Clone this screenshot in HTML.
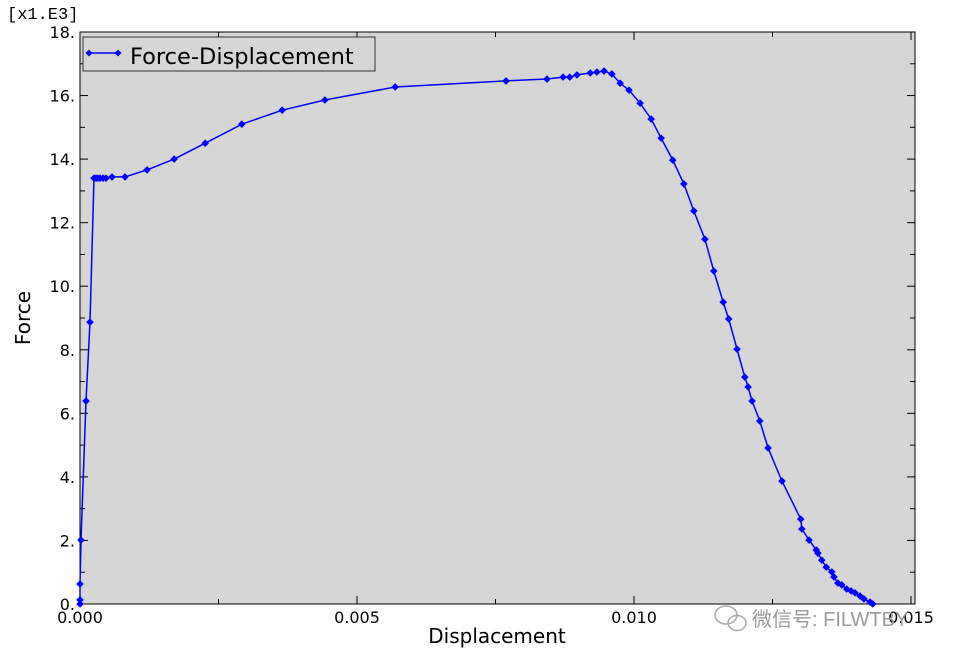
<!DOCTYPE html>
<html><head><meta charset="utf-8"><style>
body{margin:0;background:#fff;}
svg{display:block;font-family:"DejaVu Sans","Liberation Sans","Noto Sans CJK SC",sans-serif;}
</style></head><body>
<svg id="chart" width="954" height="661"></svg>
<script>
const xVals=[0,0,0,0.000018,0.000108,0.00018,0.000253,0.000289,0.000325,0.000361,0.000415,0.000469,0.000578,0.000812,0.00121,0.0017,0.00226,0.00292,0.00365,0.00442,0.00569,0.00769,0.00843,0.00872,0.00884,0.00897,0.00921,0.00933,0.00946,0.0096,0.00975,0.00991,0.01011,0.01031,0.01049,0.0107,0.0109,0.01108,0.01128,0.01144,0.01161,0.01171,0.01186,0.012,0.01206,0.01213,0.01227,0.01242,0.01267,0.01301,0.01303,0.01316,0.01329,0.01332,0.01339,0.01347,0.01357,0.01361,0.01368,0.01375,0.01384,0.01392,0.01399,0.01408,0.01415,0.01426,0.01431];
const forceVals=[0,0.13,0.63,2.01,6.39,8.87,13.40,13.40,13.40,13.40,13.40,13.40,13.44,13.44,13.66,14.0,14.5,15.1,15.54,15.86,16.27,16.46,16.52,16.58,16.58,16.65,16.71,16.74,16.77,16.68,16.39,16.17,15.76,15.26,14.66,13.97,13.22,12.37,11.48,10.48,9.5,8.97,8.02,7.14,6.83,6.39,5.76,4.91,3.87,2.67,2.36,2.01,1.7,1.6,1.38,1.16,1.01,0.85,0.66,0.6,0.47,0.41,0.35,0.25,0.16,0.06,0];
const xTicks=[0,0.005,0.010,0.015];
const xTickLabels=["0.000","0.005","0.010","0.015"];
const yTicks=[0,2,4,6,8,10,12,14,16,18];
const yTickLabels=["0.","2.","4.","6.","8.","10.","12.","14.","16.","18."];

const NS="http://www.w3.org/2000/svg";
const svg=document.getElementById('chart');
const L=80,R=915,T=32,B=604;
const xs=v=>L+v*55400;
const ys=v=>B-v*(B-T)/18;
function mk(tag,attrs,parent){const e=document.createElementNS(NS,tag);for(const k in attrs)e.setAttribute(k,attrs[k]);(parent||svg).appendChild(e);return e;}

const bg=mk('rect',{x:L,y:T,width:R-L,height:B-T,fill:'#d6d6d6',stroke:'#000','stroke-width':1});



const tg=mk('g',{stroke:'#000','stroke-width':1});


for(let v=0;v<=18.001;v+=1){const y=ys(v);const len=(Math.round(v)%2===0)?8:5;
 mk('line',{x1:L,y1:y,x2:L+len,y2:y},tg);mk('line',{x1:R,y1:y,x2:R-len,y2:y},tg);}
for(let v=0;v<=0.0150001;v+=0.0025){const x=xs(v);const len=(Math.round(v*10000)%50===0)?8:5;
 mk('line',{x1:x,y1:B,x2:x,y2:B-len},tg);mk('line',{x1:x,y1:T,x2:x,y2:T+len},tg);}

xTicks.forEach((v,i)=>{const t=mk('text',{x:xs(v),y:B+19,'font-size':16,'text-anchor':'middle',fill:'#000'});t.textContent=xTickLabels[i];
 
 });
yTicks.forEach((v,i)=>{const t=mk('text',{x:L-5,y:ys(v)+6,'font-size':16,'text-anchor':'end',fill:'#000'});t.textContent=yTickLabels[i];
 
 });

const sc=mk('text',{x:7,y:19,'font-size':17,'font-family':'Liberation Mono, monospace',fill:'#000'});sc.textContent='[x1.E3]';



const xt=mk('text',{x:497,y:643,'font-size':20,'text-anchor':'middle',fill:'#000'});xt.textContent='Displacement';


const yt=mk('text',{x:30,y:318,'font-size':20,'text-anchor':'middle',fill:'#000',transform:'rotate(-90 30 318)'});yt.textContent='Force';



const pts=xVals.map((v,i)=>xs(v).toFixed(1)+','+ys(forceVals[i]).toFixed(1)).join(' ');
const line=mk('polyline',{points:pts,fill:'none',stroke:'#0000ff','stroke-width':1.5});


xVals.forEach((v,i)=>{const x=xs(v),y=ys(forceVals[i]);
 const m=mk('polygon',{points:`${x},${y-3.8} ${x+3.8},${y} ${x},${y+3.8} ${x-3.8},${y}`,fill:'#0000ff'});
 
 });

const lg=mk('g',{});


mk('rect',{x:83,y:37,width:292,height:34,fill:'#d6d6d6',stroke:'#333','stroke-width':1},lg);
mk('line',{x1:89,y1:53,x2:118,y2:53,stroke:'#0000ff','stroke-width':1.5},lg);
[89,118].forEach(x=>mk('polygon',{points:`${x},49.5 ${x+3.5},53 ${x},56.5 ${x-3.5},53`,fill:'#0000ff'},lg));
const lt=mk('text',{x:130,y:64,'font-size':22.5,fill:'#000'},lg);lt.textContent='Force-Displacement';



const wm=mk('text',{x:752,y:626,'font-size':20,fill:'#9a9a9a','font-family':'Liberation Sans, Noto Sans CJK SC, sans-serif'});wm.textContent='微信号: FILWTBY';


const wi=mk('g',{fill:'none',stroke:'#aaa','stroke-width':1.5});


mk('ellipse',{cx:726,cy:615,rx:11,ry:9},wi);mk('ellipse',{cx:737,cy:623,rx:9,ry:7.5},wi);
</script>
</body></html>
